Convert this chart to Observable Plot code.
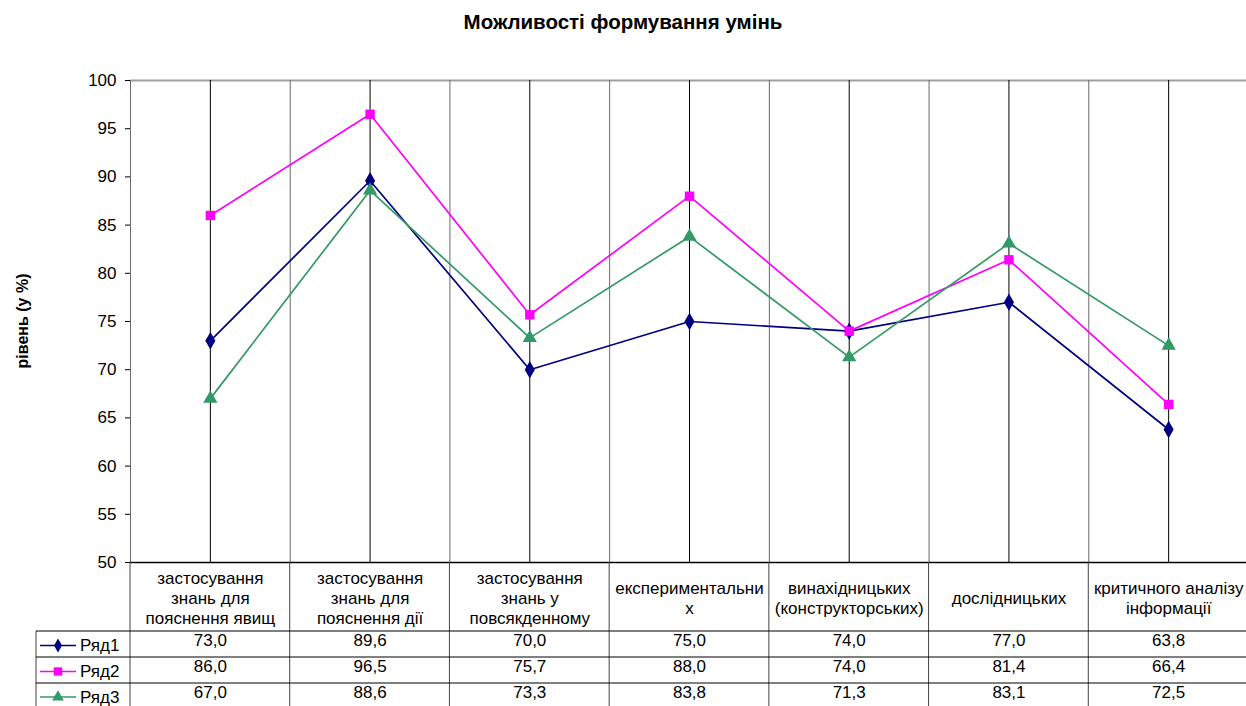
<!DOCTYPE html>
<html><head><meta charset="utf-8">
<script src="https://cdn.jsdelivr.net/npm/d3@7"></script>
<script src="https://cdn.jsdelivr.net/npm/@observablehq/plot@0.6"></script>
<style>
body{margin:0;background:#fff;font-family:"Liberation Sans",Arial,sans-serif;}
#title{height:44px;line-height:44px;text-align:center;font-weight:bold;font-size:20.5px;color:#000;width:1246px;}
</style>
</head><body>
<div id="title">Можливості формування умінь</div>
<div id="chart"></div>
<script>
const categories = [
  "застосування\nзнань для\nпояснення явищ",
  "застосування\nзнань для\nпояснення дії",
  "застосування\nзнань у\nповсякденному",
  "експериментальни\nх",
  "винахідницьких\n(конструкторських)",
  "дослідницьких",
  "критичного аналізу\nінформації"
];
const series = ["Ряд1", "Ряд2", "Ряд3"];
const values1 = [73.0, 89.6, 70.0, 75.0, 74.0, 77.0, 63.8];
const values2 = [86.0, 96.5, 75.7, 88.0, 74.0, 81.4, 66.4];
const values3 = [67.0, 88.6, 73.3, 83.8, 71.3, 83.1, 72.5];
const yTicks = [50, 55, 60, 65, 70, 75, 80, 85, 90, 95, 100];
const yLabel = "рівень (у %)";
const colors = ["#000080", "#FF00FF", "#339966"];
const symbols = ["diamond", "square", "triangle"];

const values = [values1, values2, values3];
const n = categories.length;
const idx = d3.range(n);
const rows = [];
series.forEach((s, k) => idx.forEach(i => rows.push({s, i, v: values[k][i]})));
const fmt = v => v.toFixed(1).replace(".", ",");

const W = 1246, H = 662, mT = 36, mB = 144, mL = 130, mR = -2;
const rowLines = [69, 95, 121];
const rowDy = [83.5, 109.5, 135];
const font = "'Liberation Sans', Arial, sans-serif";
const fs = 17;

const marks = [
  Plot.ruleY([100], {stroke: "#a0a0a0", strokeWidth: 2}),
  Plot.ruleX(d3.range(0, n + 1), {stroke: "#6a6a6a"}),
  Plot.ruleX(idx, {x: i => i + 0.5, stroke: "#000"}),
  Plot.ruleY([50], {stroke: "#000", strokeWidth: 1.5}),
  Plot.axisY({ticks: yTicks, tickSize: 5, tickPadding: 9, label: null, tickFormat: d => d, fontSize: fs}),
  Plot.line(rows, {x: d => d.i + 0.5, y: "v", z: "s", stroke: "s", strokeWidth: 1.7}),
  Plot.dot(rows, {x: d => d.i + 0.5, y: "v", symbol: "s", fill: "s", r: 5.3}),
  Plot.text(categories, {x: (d, i) => i + 0.5, text: d => d, frameAnchor: "bottom", dy: 35, lineAnchor: "middle", lineHeight: 1.2, fontSize: fs})
];
series.forEach((s, k) => {
  marks.push(Plot.text(values[k], {x: (d, i) => i + 0.5, text: d => fmt(d), frameAnchor: "bottom", dy: rowDy[k], fontSize: fs}));
});

const plot = Plot.plot({
  width: W, height: H,
  marginTop: mT, marginBottom: mB, marginLeft: mL, marginRight: mR,
  x: {domain: [0, n], axis: null},
  y: {domain: [50, 100], axis: null},
  color: {domain: series, range: colors},
  symbol: {domain: series, range: symbols},
  style: {fontFamily: font, fontSize: fs + "px", color: "#000", background: "#fff", overflow: "visible"},
  marks
});
document.getElementById("chart").appendChild(plot);

// table grid and legend keys, positioned with the plot's scales
const sx = plot.scale("x");
const sy = plot.scale("y");
const svg = d3.select(plot);
const g = svg.append("g").attr("text-anchor", "start");
const yB = sy.apply(50);
const xL = 36, xR = sx.apply(n);
d3.range(0, n + 1).forEach(b => {
  g.append("line").attr("x1", sx.apply(b)).attr("x2", sx.apply(b))
    .attr("y1", yB).attr("y2", H).attr("stroke", "#444");
});
g.append("line").attr("x1", xL).attr("x2", xL).attr("y1", yB + rowLines[0]).attr("y2", H).attr("stroke", "#444");
rowLines.forEach(o => {
  g.append("line").attr("x1", xL).attr("x2", xR).attr("y1", yB + o).attr("y2", yB + o).attr("stroke", "#000");
});
const keySyms = [d3.symbolDiamond, d3.symbolSquare, d3.symbolTriangle];
const keySizes = [55, 70, 60];
series.forEach((s, k) => {
  const cy = yB + rowDy[k];
  g.append("line").attr("x1", 40).attr("x2", 76).attr("y1", cy).attr("y2", cy)
    .attr("stroke", colors[k]).attr("stroke-width", 1.7);
  g.append("path").attr("d", d3.symbol(keySyms[k], keySizes[k])()).attr("transform", `translate(58,${cy})`).attr("fill", colors[k]);
  g.append("text").attr("x", 80).attr("y", cy).attr("dy", "0.35em").attr("font-size", fs)
    .attr("font-family", font).attr("fill", "#000").text(s);
});
// y axis title
const yMid = (sy.apply(50) + sy.apply(100)) / 2;
g.append("text").attr("transform", `translate(22,${yMid}) rotate(-90)`)
  .attr("text-anchor", "middle").attr("dy", "0.35em")
  .attr("font-size", 16).attr("font-weight", "bold").attr("font-family", font).attr("fill", "#000").text(yLabel);
</script>
</body></html>
